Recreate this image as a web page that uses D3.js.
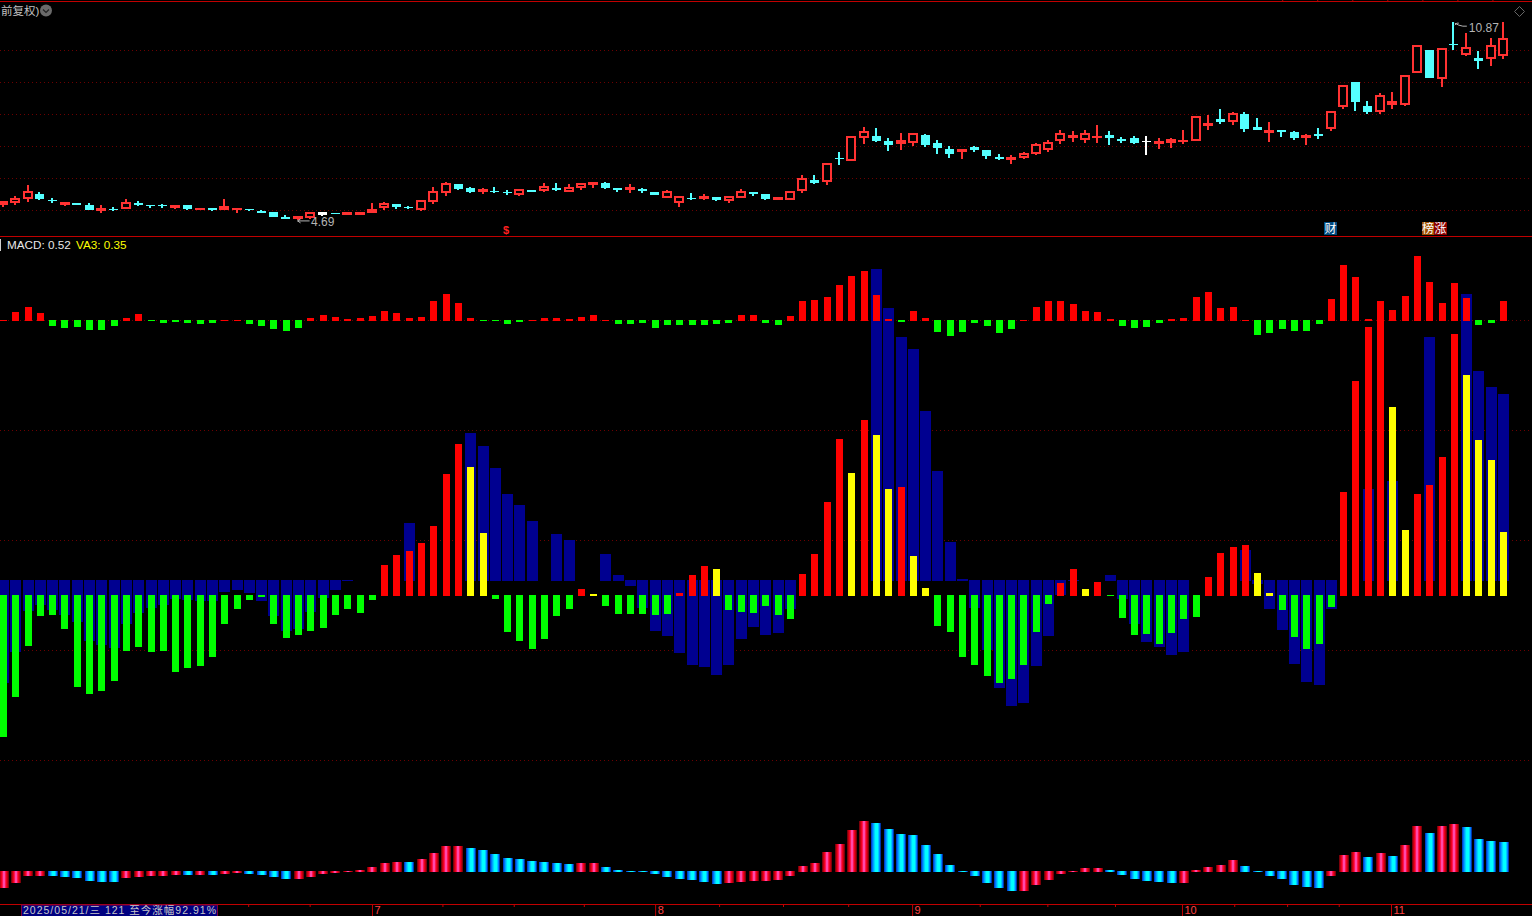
<!DOCTYPE html>
<html>
<head>
<meta charset="utf-8">
<style>
  html, body { margin: 0; padding: 0; background: #000; overflow: hidden; }
  svg { display: block; }
  text { font-family: "Liberation Sans", "Noto Sans CJK SC", sans-serif; }
</style>
</head>
<body>
<div id="chart"></div>
<script src="https://cdn.jsdelivr.net/npm/d3@7"></script>
<script>
'use strict';

// daily candles, one entry per bar
var opens = [5.16,5.21,5.34,5.5,5.3,5.16,5.22,5.17,4.98,5.03,5.03,5.23,5.16,5.16,5.06,5.16,5,5.06,5,5.01,5.03,4.97,4.94,4.78,4.72,4.75,4.94,4.91,4.84,4.84,4.91,5.06,5.19,5.09,5,5.25,5.53,5.81,5.69,5.56,5.59,5.56,5.47,5.63,5.59,5.69,5.56,5.69,5.78,5.84,5.69,5.63,5.66,5.56,5.38,5.22,5.38,5.34,5.41,5.28,5.38,5.56,5.5,5.31,5.31,5.59,5.94,5.88,6.63,6.53,7.25,7.31,7.16,7.06,7.09,7.34,7.09,6.91,6.81,6.97,6.88,6.66,6.56,6.63,6.75,6.88,7.16,7.25,7.19,7.25,7.34,7.22,7.25,7.16,7.06,7.09,7.13,7.16,7.63,7.84,7.75,8,7.59,7.41,7.5,7.44,7.25,7.38,7.53,8.22,9,8.25,8.06,8.28,8.28,9.28,10,9.09,10.19,9.84,9.75,9.72,9.81];
var closes = [5.27,5.38,5.58,5.33,5.27,5.25,5.17,5,5.06,5,5.25,5.17,5.13,5.12,5.16,5.03,5.06,5.01,5.13,5.06,5,4.91,4.78,4.72,4.81,4.94,4.85,4.88,4.94,4.94,5.03,5.22,5.09,5.06,5.31,5.59,5.84,5.66,5.56,5.66,5.56,5.53,5.66,5.57,5.75,5.63,5.72,5.84,5.88,5.69,5.63,5.72,5.59,5.47,5.59,5.44,5.34,5.44,5.31,5.44,5.59,5.5,5.34,5.41,5.59,6,5.84,6.47,6.59,7.31,7.47,7.16,7.03,7.19,7.41,7.03,6.94,6.75,6.91,6.88,6.69,6.59,6.66,6.78,7.06,7.13,7.41,7.34,7.41,7.31,7.25,7.16,7.09,7.13,7.16,7.22,7.19,7.94,7.72,7.75,8.03,7.53,7.5,7.5,7.44,7.25,7.34,7.31,8.09,8.91,8.38,8.06,8.59,8.41,9.22,10.16,9.13,10.06,10.16,10.09,9.66,10.16,10.38];
var highs = [5.27,5.44,5.78,5.57,5.38,5.25,5.22,5.23,5.16,5.09,5.34,5.28,5.16,5.2,5.16,5.16,5.06,5.06,5.34,5.06,5.03,5.01,4.94,4.84,4.81,4.94,4.94,4.91,4.94,4.94,5.22,5.25,5.19,5.13,5.31,5.72,5.88,5.81,5.72,5.69,5.72,5.63,5.66,5.63,5.84,5.84,5.81,5.84,5.88,5.88,5.69,5.81,5.69,5.56,5.63,5.44,5.53,5.5,5.41,5.44,5.66,5.56,5.5,5.41,5.59,6.09,6.09,6.47,6.81,7.31,7.59,7.56,7.25,7.41,7.41,7.38,7.19,7,6.91,7,6.88,6.75,6.72,6.81,7.09,7.19,7.5,7.47,7.5,7.66,7.47,7.28,7.31,7.31,7.25,7.25,7.5,7.94,7.97,8.16,8.06,8.06,7.88,7.75,7.5,7.47,7.38,7.56,8.09,8.91,9,8.41,8.66,8.69,9.22,10.16,10,10.06,10.87,10.53,9.97,10.38,10.87];
var lows = [5.09,5.17,5.26,5.31,5.22,5.13,5.17,5,4.91,4.98,5.03,5.12,5.06,5.06,5.02,5,5,4.98,5,4.91,4.97,4.91,4.78,4.72,4.69,4.72,4.81,4.88,4.84,4.84,4.91,5,5.03,5.03,4.97,5.19,5.44,5.63,5.53,5.5,5.53,5.47,5.44,5.57,5.56,5.59,5.56,5.63,5.69,5.66,5.56,5.53,5.53,5.47,5.38,5.09,5.31,5.31,5.28,5.22,5.38,5.44,5.31,5.31,5.31,5.53,5.81,5.78,6.41,6.53,7.06,7.13,6.84,6.88,7,6.97,6.75,6.63,6.59,6.81,6.59,6.56,6.44,6.59,6.72,6.81,7.06,7.13,7.09,7.09,7.03,7.09,7.06,6.72,6.91,6.94,7.06,7.16,7.5,7.69,7.66,7.44,7.5,7.13,7.28,7.19,7.03,7.22,7.47,8.16,8.09,8,8,8.16,8.25,9.28,9.13,8.84,10,9.81,9.41,9.5,9.72];
var whiteBars = [26, 93];

// indicator series
var macdTop = [0.01,0.09,0.14,0.08,-0.06,-0.08,-0.07,-0.1,-0.1,-0.06,0.03,0.07,-0.01,-0.03,-0.02,-0.03,-0.04,-0.03,0.01,0.01,-0.04,-0.06,-0.09,-0.11,-0.08,0.03,0.06,0.04,0.02,0.03,0.05,0.1,0.08,0.03,0.04,0.2,0.27,0.18,0.03,-0.01,-0.01,-0.04,-0.02,0.01,0.03,0.03,0.02,0.04,0.06,0.01,-0.04,-0.04,-0.03,-0.08,-0.05,-0.05,-0.05,-0.05,-0.04,-0.03,0.06,0.06,-0.03,-0.05,0.05,0.2,0.21,0.24,0.36,0.45,0.5,0.26,0.02,-0.02,0.1,0.03,-0.12,-0.16,-0.12,-0.03,-0.06,-0.13,-0.09,0.01,0.14,0.2,0.2,0.17,0.1,0.09,0.02,-0.06,-0.08,-0.07,-0.03,0.02,0.03,0.24,0.29,0.13,0.14,0.01,-0.15,-0.13,-0.09,-0.11,-0.11,-0.04,0.22,0.56,0.44,0.02,0.2,0.11,0.25,0.65,0.39,0.18,0.38,0.23,-0.05,-0.03,0.2];
var va3Bars = [-1.03,-0.72,-0.31,-0.25,-0.3,-0.35,-0.42,-0.61,-0.65,-0.68,-0.44,-0.33,-0.28,-0.25,-0.19,-0.2,-0.21,-0.21,-0.12,-0.1,-0.13,-0.21,-0.36,-0.51,-0.49,-0.32,-0.18,-0.1,-0.01,0,0,0,0,0.58,0,0,0,0,1.48,1.35,1.13,0.87,0.76,0.6,0,0.47,0.41,0,0,0.27,0.06,-0.06,-0.28,-0.51,-0.56,-0.73,-0.85,-0.87,-0.95,-0.85,-0.59,-0.47,-0.55,-0.53,-0.29,0,0,0,0,0,0,3.12,2.73,2.44,2.32,1.7,1.1,0.39,0.02,-0.28,-0.7,-1.08,-1.26,-1.23,-0.86,-0.56,-0.15,-0.01,0,0,0.06,-0.19,-0.44,-0.62,-0.67,-0.75,-0.72,0,0,0,0,0.31,-0.04,-0.29,-0.5,-0.84,-1.02,-1.05,-0.29,0,0,0.92,0,1,0,0,2.44,0,0,2.87,2.1,1.94,1.87];
var macdMid = [-1.42,-1.02,-0.51,-0.21,-0.2,-0.34,-0.92,-0.99,-0.96,-0.86,-0.56,-0.52,-0.57,-0.56,-0.77,-0.73,-0.71,-0.62,-0.29,-0.14,-0.05,-0.02,-0.29,-0.43,-0.4,-0.36,-0.33,-0.2,-0.14,-0.18,-0.05,0.31,0.41,0.45,0.53,0.7,1.22,1.52,1.29,0.63,-0.04,-0.37,-0.46,-0.54,-0.44,-0.21,-0.14,0.07,0.02,-0.11,-0.19,-0.19,-0.19,-0.2,-0.19,0.03,0.21,0.3,0.27,-0.15,-0.17,-0.18,-0.11,-0.2,-0.24,0.22,0.42,0.94,1.57,1.23,1.76,1.61,1.07,1.09,0.4,0.08,-0.31,-0.37,-0.62,-0.7,-0.81,-0.88,-0.84,-0.7,-0.37,-0.09,0.13,0.27,0.07,0.14,-0.01,-0.23,-0.4,-0.39,-0.49,-0.38,-0.24,-0.22,0.19,0.43,0.49,0.51,0.23,0.03,-0.15,-0.42,-0.54,-0.49,-0.12,1.04,2.15,2.69,2.95,1.89,0.66,1.02,1.11,1.39,2.62,2.21,1.56,1.36,0.64];
var oscBars = [-0.17,-0.12,-0.05,-0.05,-0.052,-0.06,-0.07,-0.1,-0.11,-0.112,-0.07,-0.06,-0.05,-0.05,-0.04,-0.042,-0.04,-0.042,-0.03,-0.02,-0.03,-0.04,-0.06,-0.08,-0.078,-0.06,-0.03,-0.02,-0.01,0.02,0.05,0.09,0.1,0.098,0.13,0.19,0.26,0.262,0.24,0.22,0.18,0.14,0.13,0.11,0.1,0.09,0.08,0.085,0.09,0.05,0.02,0.01,-0.01,-0.03,-0.06,-0.08,-0.09,-0.11,-0.13,-0.12,-0.11,-0.1,-0.095,-0.09,-0.05,0.06,0.09,0.2,0.28,0.42,0.51,0.49,0.43,0.38,0.37,0.27,0.18,0.07,0.01,-0.05,-0.12,-0.17,-0.2,-0.198,-0.14,-0.09,-0.03,-0.01,0.04,0.042,0.02,-0.04,-0.08,-0.1,-0.11,-0.12,-0.118,0.02,0.05,0.07,0.12,0.06,0.01,-0.05,-0.08,-0.14,-0.16,-0.17,-0.05,0.17,0.2,0.15,0.19,0.16,0.27,0.46,0.39,0.46,0.48,0.45,0.33,0.31,0.3];

// grid and axis labels
var priceGrid = [5, 6, 7, 8, 9, 10];
var macdGrid = [0, -1.1, -2.2, -3.3, -4.4];
var minorTicks = [19.9, 24.9, 35.7, 41.5, 47.2, 58.2, 63.4, 68.7, 79.4, 84.9, 90.4, 100.1, 104.4, 108.6];
var monthTicks = [29.97, 53, 73.9, 95.85, 112.85];
var monthLabels = ['7', '8', '9', '10', '11'];
var topTicks = [104, 106.85, 109.7, 112.55, 115.4, 118.25, 121.1];

var width = 1532;
var height = 916;

var lineRed = '#c00000';
var gridRed = '#6c0000';
var candleRed = '#ff3232';
var candleCyan = '#54ffff';

var bars = d3.range(opens.length);

var x = d3.scaleLinear().domain([0, 122]).range([3.5, 1503.5]);
var yPrice = d3.scaleLinear().domain([5, 10]).range([210, 50]);

// all indicator panes share the same px per unit, only the zero line moves
function pane(zero) {
  return d3.scaleLinear().domain([0, 1]).range([zero, zero - 100]);
}
var yTop = pane(320.5);
var yBlue = pane(580.5);
var yMid = pane(595.5);
var yOsc = pane(871.5);

var svg = d3.select('#chart')
  .append('svg')
  .attr('width', width)
  .attr('height', height)
  .style('background', '#000');

var defs = svg.append('defs');

function gradient(id, stops) {
  var g = defs.append('linearGradient').attr('id', id);
  stops.forEach(function (s) {
    g.append('stop').attr('offset', s[0]).attr('stop-color', s[1]);
  });
}
gradient('oscRed', [[0, '#5a0008'], [0.2, '#e00010'], [0.32, '#ff0030'], [0.42, '#ff48a8'], [0.58, '#ff48a8'], [0.68, '#ff0030'], [0.8, '#e00010'], [1, '#5a0008']]);
gradient('oscCyan', [[0, '#0028b8'], [0.18, '#0080ff'], [0.36, '#00d8ff'], [0.46, '#00ffff'], [0.68, '#00ffff'], [0.85, '#0080ff'], [1, '#001080']]);

// dotted grid
svg.append('g').attr('shape-rendering', 'crispEdges').selectAll('line')
  .data(priceGrid)
  .join('line')
  .attr('x1', 0)
  .attr('x2', width)
  .attr('y1', function (d) { return yPrice(d) + 0.5; })
  .attr('y2', function (d) { return yPrice(d) + 0.5; })
  .attr('stroke', gridRed)
  .attr('stroke-dasharray', '1 3');

svg.append('g').attr('shape-rendering', 'crispEdges').selectAll('line')
  .data(macdGrid)
  .join('line')
  .attr('x1', 0)
  .attr('x2', width)
  .attr('y1', function (d) { return yTop(d); })
  .attr('y2', function (d) { return yTop(d); })
  .attr('stroke', gridRed)
  .attr('stroke-dasharray', '1 3');

// pane borders
[1.5, 236.5, 904.5].forEach(function (y) {
  svg.append('line')
    .attr('x1', 0)
    .attr('x2', width)
    .attr('y1', y)
    .attr('y2', y)
    .attr('stroke', lineRed);
});

// histogram helper, up bars end half a pixel under the zero line, down bars start half above
function histogram(values, scale, barWidth, fill) {
  var g = svg.append('g').attr('shape-rendering', 'crispEdges');
  var zero = scale(0);
  function h(v) {
    return Math.max(1, Math.round(zero - scale(Math.abs(v))));
  }
  g.selectAll('rect')
    .data(bars.filter(function (i) { return values[i] !== 0; }))
    .join('rect')
    .attr('x', function (i) { return Math.round(x(i) - barWidth / 2); })
    .attr('width', barWidth)
    .attr('y', function (i) {
      return values[i] > 0 ? zero + 0.5 - h(values[i]) : zero - 0.5;
    })
    .attr('height', function (i) { return h(values[i]); })
    .attr('fill', function (i) { return fill(values[i], i); });
  return g;
}

function rising(values, i) {
  return i === 0 || values[i] >= values[i - 1];
}

histogram(va3Bars, yBlue, 11, function () { return '#000090'; });

histogram(macdTop, yTop, 7, function (v) { return v > 0 ? '#ff0000' : '#00ff00'; });

histogram(macdMid, yMid, 7, function (v, i) {
  if (v < 0) return '#00ff00';
  return rising(macdMid, i) ? '#ff0000' : '#ffff00';
});

histogram(oscBars, yOsc, 10, function (v, i) {
  return rising(oscBars, i) ? 'url(#oscRed)' : 'url(#oscCyan)';
});

// candles
function isUp(i) {
  return closes[i] >= opens[i];
}
function candleColor(i) {
  if (whiteBars.indexOf(i) >= 0) return '#ffffff';
  return isUp(i) ? candleRed : candleCyan;
}
function bodyWidth(i) {
  return isUp(i) && whiteBars.indexOf(i) < 0 ? 10 : 9;
}
function bodyLeft(i) {
  return Math.round(x(i) - bodyWidth(i) / 2 - 0.4);
}
function bodyTop(i) {
  return Math.round(yPrice(Math.max(opens[i], closes[i])));
}
function bodyHeight(i) {
  return Math.max(1, Math.round(yPrice(Math.min(opens[i], closes[i]))) - bodyTop(i));
}

var candles = svg.append('g').attr('shape-rendering', 'crispEdges');

candles.selectAll('.wick')
  .data(bars)
  .join('rect')
  .attr('class', 'wick')
  .attr('x', function (i) { return bodyLeft(i) + Math.floor(bodyWidth(i) / 2) - 1; })
  .attr('width', 2)
  .attr('y', function (i) { return Math.round(yPrice(highs[i])); })
  .attr('height', function (i) { return Math.max(1, Math.round(yPrice(lows[i])) - Math.round(yPrice(highs[i]))); })
  .attr('fill', candleColor);

candles.selectAll('.body')
  .data(bars)
  .join('rect')
  .attr('class', 'body')
  .attr('x', bodyLeft)
  .attr('width', bodyWidth)
  .attr('y', bodyTop)
  .attr('height', bodyHeight)
  .attr('fill', candleColor);

// hollow the red ones
candles.selectAll('.hole')
  .data(bars.filter(function (i) { return isUp(i) && whiteBars.indexOf(i) < 0 && bodyHeight(i) > 4; }))
  .join('rect')
  .attr('class', 'hole')
  .attr('x', function (i) { return bodyLeft(i) + 2; })
  .attr('width', function (i) { return bodyWidth(i) - 4; })
  .attr('y', function (i) { return bodyTop(i) + 2; })
  .attr('height', function (i) { return bodyHeight(i) - 4; })
  .attr('fill', '#000');

// bottom date axis
var axisMinor = d3.axisBottom(x)
  .tickValues(minorTicks)
  .tickSize(3)
  .tickSizeOuter(0)
  .tickFormat('');
var axisMonth = d3.axisBottom(x)
  .tickValues(monthTicks)
  .tickSize(12)
  .tickSizeOuter(0)
  .tickFormat(function (d, i) { return monthLabels[i]; });
var axisTop = d3.axisTop(x)
  .tickValues(topTicks)
  .tickSize(1)
  .tickSizeOuter(0)
  .tickFormat('');

function styleAxis(g) {
  g.select('.domain').remove();
  g.selectAll('line').attr('stroke', lineRed);
}

svg.append('g').attr('transform', 'translate(0,904)').call(axisMinor).call(styleAxis);
svg.append('g').attr('transform', 'translate(0,1)').call(axisTop).call(styleAxis);
svg.append('g').attr('transform', 'translate(0,904)').call(axisMonth).call(styleAxis)
  .selectAll('text')
  .attr('x', 2)
  .attr('y', 0)
  .attr('dy', '9.5')
  .attr('text-anchor', 'start')
  .attr('fill', '#ff4040')
  .style('font-size', '11px')
  .style('font-family', '"Liberation Sans", sans-serif');

// date box
svg.append('rect')
  .attr('x', 21.5)
  .attr('y', 905)
  .attr('width', 196)
  .attr('height', 12)
  .attr('fill', '#000080')
  .attr('stroke', '#800040');
svg.append('text')
  .attr('x', 23)
  .attr('y', 913.5)
  .attr('fill', '#c8c8c8')
  .attr('font-size', 10.5)
  .attr('textLength', 193)
  .text('2025/05/21/三 121 至今涨幅92.91%');

// header
svg.append('text')
  .attr('x', 1)
  .attr('y', 15)
  .attr('fill', '#c0c0c0')
  .attr('font-size', 11.5)
  .text('前复权)');
svg.append('circle')
  .attr('cx', 46)
  .attr('cy', 10.5)
  .attr('r', 6)
  .attr('fill', '#6a6a6a');
svg.append('path')
  .attr('d', 'M43,9.5 L46,12.5 L49,9.5')
  .attr('fill', 'none')
  .attr('stroke', '#222')
  .attr('stroke-width', 1.2);
svg.append('path')
  .attr('d', 'M1519.5,6.5 L1524.5,11.5 L1519.5,16.5 L1514.5,11.5 Z')
  .attr('fill', 'none')
  .attr('stroke', '#666');

// low and high price notes
var noteGrey = '#b4b4b4';
var lowIdx = lows.indexOf(d3.min(lows));
var highIdx = highs.indexOf(d3.max(highs));
var lowX = x(lowIdx) - 1;
var lowY = yPrice(lows[lowIdx]) + 1;
svg.append('path')
  .attr('d', 'M' + lowX + ',' + lowY + ' h12 M' + lowX + ',' + lowY + ' l3,-2 M' + lowX + ',' + lowY + ' l3,2')
  .attr('fill', 'none')
  .attr('stroke', noteGrey);
svg.append('text')
  .attr('x', x(lowIdx) + 12.5)
  .attr('y', lowY + 5)
  .attr('fill', noteGrey)
  .attr('font-size', 12)
  .text(d3.format('.2f')(lows[lowIdx]));
var highX = x(highIdx) + 0.5;
var highY = yPrice(highs[highIdx]);
svg.append('path')
  .attr('d', 'M' + highX + ',' + (highY + 3) + ' l2,-2 h2 M' + highX + ',' + (highY + 1) + ' l4,2 l4,1 h4')
  .attr('fill', 'none')
  .attr('stroke', noteGrey);
svg.append('text')
  .attr('x', highX + 14)
  .attr('y', highY + 10)
  .attr('fill', noteGrey)
  .attr('font-size', 12)
  .text(d3.format('.2f')(highs[highIdx]));

// event tags
svg.append('text')
  .attr('x', 506)
  .attr('y', 234)
  .attr('text-anchor', 'middle')
  .attr('fill', '#ff2020')
  .attr('font-size', 11)
  .attr('font-weight', 'bold')
  .text('$');

[[1324, 13, '#004a80', '财'], [1422, 12, '#a05000', '榜'], [1434, 13, '#8b0000', '涨']].forEach(function (t) {
  svg.append('rect')
    .attr('x', t[0])
    .attr('y', 222)
    .attr('width', t[1])
    .attr('height', 13)
    .attr('fill', t[2]);
  svg.append('text')
    .attr('x', t[0] + t[1] / 2)
    .attr('y', 233)
    .attr('text-anchor', 'middle')
    .attr('fill', '#fff')
    .attr('font-size', 12)
    .text(t[3]);
});

// legend
svg.append('rect')
  .attr('x', 0)
  .attr('y', 239)
  .attr('width', 1)
  .attr('height', 12)
  .attr('fill', '#d0d0d0');
svg.append('text')
  .attr('x', 7)
  .attr('y', 249)
  .attr('fill', '#e8e8e8')
  .attr('font-size', 11.7)
  .text('MACD: 0.52');
svg.append('text')
  .attr('x', 76)
  .attr('y', 249)
  .attr('fill', '#ffff00')
  .attr('font-size', 11.7)
  .text('VA3: 0.35');
</script>
</body>
</html>
